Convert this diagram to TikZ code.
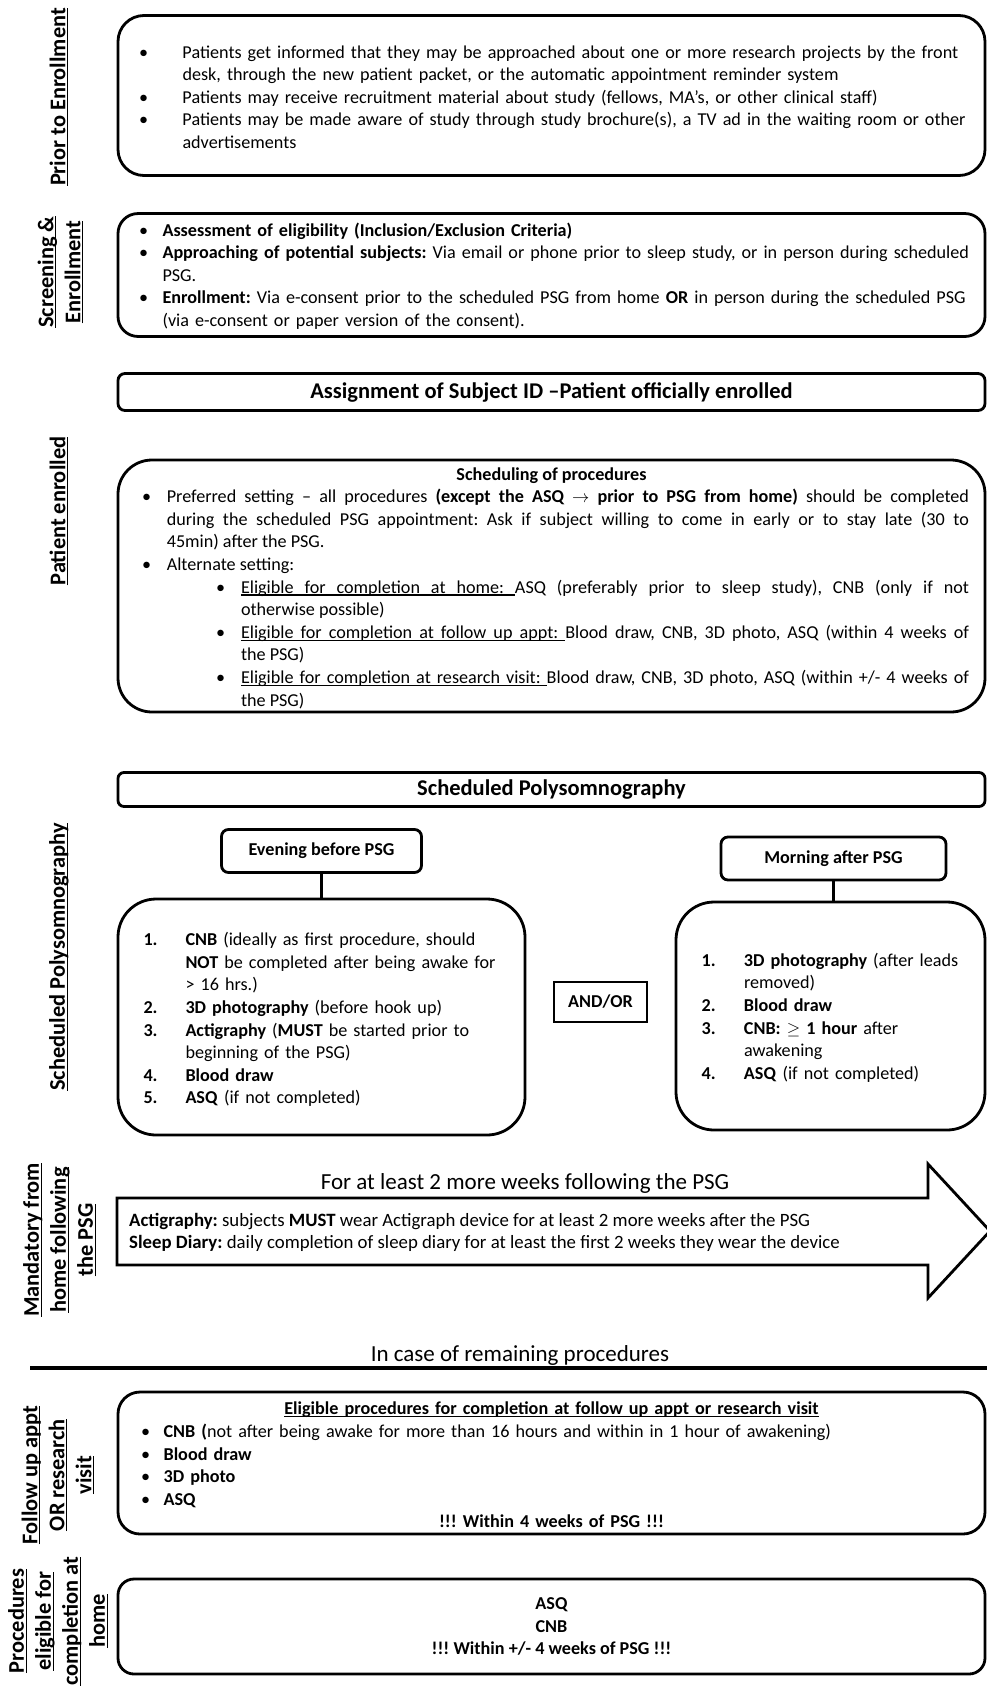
\documentclass[tikz,border=0pt]{standalone}
\usepackage{amsmath, amssymb}
\usepackage{fontspec}
\setmainfont{Carlito}
\newcommand{\bodysize}{\fontsize{18.15}{22.6}\selectfont}
\newcommand{\headsize}{\fontsize{22.5}{27}\selectfont}
% underline with a given depth
\newcommand{\uln}[2][2.6pt]{\setbox0\hbox{#2}\rlap{\rule[-#1]{\wd0}{1.3pt}}\box0}
% underlined stretchable space
\newcommand{\ulsp}{\leaders\hrule height -1.3pt depth 2.6pt\hskip\fontdimen2\font plus\fontdimen3\font minus\fontdimen4\font\relax}
% list item: text indent, label start, label
\newcommand{\litem}[3]{\par\noindent\hangindent=#1\hangafter=1\hspace*{#2}\makebox[\dimexpr#1-#2\relax][l]{#3}\ignorespaces}
\hyphenpenalty=10000
\exhyphenpenalty=10000
\frenchspacing

\begin{document}
\begin{tikzpicture}[x=1pt,y=1pt,yscale=-1,font=\bodysize,
  roundbox/.style={draw, line width=2.8pt, rounded corners=#1, inner sep=0pt},
  sidelabel/.style={rotate=90, align=center, inner sep=0pt, font=\fontsize{22.4}{27}\selectfont\bfseries}]
\useasboundingbox (0,0) rectangle (987,1687);

% Text Node
\node [sidelabel] (lbprior) at (59,97) {\uln[3pt]{Prior to Enrollment}};
% Text Node
\node [sidelabel] (lbscreen) at (60.5,272) {\uln[3pt]{Screening \&}\\\uln[3pt]{Enrollment}};
% Text Node
\node [sidelabel] (lbenrol) at (59,511) {\uln[3pt]{Patient enrolled}};
% Text Node
\node [sidelabel] (lbpsg) at (59,957) {\uln[3pt]{Scheduled Polysomnography}};
% Text Node
\node [sidelabel] (lbhome) at (59.5,1240) {\uln[3pt]{Mandatory from}\\\uln[3pt]{home following}\\\uln[3pt]{the PSG}};
% Text Node
\node [sidelabel] (lbvisit) at (58,1475) {\uln[3pt]{Follow up appt}\\\uln[3pt]{OR research}\\\uln[3pt]{visit}};
% Text Node
\node [sidelabel] (lbathome) at (58,1621) {\uln[3pt]{Procedures}\\\uln[3pt]{eligible for}\\\uln[3pt]{completion at}\\\uln[3pt]{home}};

%Shape: Rounded Rect
\node [roundbox=26pt, minimum width=867, minimum height=160, text width=845, align=left] (prior) at (551.5,95.5) {%
\litem{53.5pt}{10pt}{\textbullet}Patients get informed that they may be approached about one or more research projects by the front\newline desk, through the new patient packet, or the automatic appointment reminder system
\litem{53.5pt}{10pt}{\textbullet}Patients may receive recruitment material about study (fellows, MA’s, or other clinical staff)
\litem{53.5pt}{10pt}{\textbullet}Patients may be made aware of study through study brochure(s), a TV ad in the waiting room or other\newline advertisements\par\kern7pt\relax};

%Shape: Rounded Rect
\node [roundbox=20pt, minimum width=867, minimum height=120, text width=845, align=left] (screen) at (551.5,275) {%
\litem{33.5pt}{10pt}{\textbullet}\textbf{Assessment of eligibility (Inclusion/Exclusion Criteria)}
\litem{33.5pt}{10pt}{\textbullet}\textbf{Approaching of potential subjects:} Via email or phone prior to sleep study, or in person during scheduled\newline PSG.
\litem{33.5pt}{10pt}{\textbullet}\textbf{Enrollment:} Via e-consent prior to the scheduled PSG from home \textbf{OR} in person during the scheduled PSG\newline (via e-consent or paper version of the consent).\par\kern7pt\relax};

%Shape: Rounded Rect
\node [roundbox=7pt, minimum width=867, minimum height=37, font=\headsize\bfseries] (assign) at (551.5,392) {Assignment of Subject ID --Patient officially enrolled};

%Shape: Rounded Rect
\node [roundbox=34pt, minimum width=867, minimum height=252, text width=835, align=justify] (sched) at (551.5,586) {%
{\centering\textbf{Scheduling of procedures}\par}
\litem{32.8pt}{8pt}{\textbullet}Preferred setting -- all procedures \textbf{(except the ASQ $\rightarrow$ prior to PSG from home)} should be completed\linebreak during the scheduled PSG appointment: Ask if subject willing to come in early or to stay late (30 to\linebreak 45min) after the PSG.
\litem{32.8pt}{8pt}{\textbullet}Alternate setting:
\litem{107pt}{82pt}{\textbullet}\uln{Eligible}\ulsp\uln{for}\ulsp\uln{completion}\ulsp\uln{at}\ulsp\uln{home:}\ulsp ASQ (preferably prior to sleep study), CNB (only if not\linebreak otherwise possible)
\litem{107pt}{82pt}{\textbullet}\uln{Eligible}\ulsp\uln{for}\ulsp\uln{completion}\ulsp\uln{at}\ulsp\uln{follow}\ulsp\uln{up}\ulsp\uln{appt:}\ulsp Blood draw, CNB, 3D photo, ASQ (within 4 weeks of\linebreak the PSG)
\litem{107pt}{82pt}{\textbullet}\uln{Eligible}\ulsp\uln{for}\ulsp\uln{completion}\ulsp\uln{at}\ulsp\uln{research}\ulsp\uln{visit:}\ulsp Blood draw, CNB, 3D photo, ASQ (within +/- 4 weeks of\linebreak the PSG)\par\kern-4pt\relax};

%Shape: Rounded Rect
\node [roundbox=6pt, minimum width=867, minimum height=34, font=\headsize\bfseries] (psg) at (551.5,789.5) {Scheduled Polysomnography};

%Shape: Rounded Rect
\node [roundbox=7pt, minimum width=200, minimum height=43, font=\bodysize\bfseries] (evening) at (321.5,851) {Evening before PSG};
%Shape: Rounded Rect
\node [roundbox=7pt, minimum width=225, minimum height=43, font=\bodysize\bfseries] (morning) at (833.5,858.5) {Morning after PSG};

%Shape: Rounded Rect
\node [roundbox=38pt, minimum width=407, minimum height=236, text width=370, align=left] (evelist) at (321.5,1017) {%
\litem{49pt}{7pt}{\textbf{1.}}\textbf{CNB} (ideally as first procedure, should\newline \textbf{NOT} be completed after being awake for\newline > 16 hrs.)
\litem{49pt}{7pt}{\textbf{2.}}\textbf{3D photography} (before hook up)
\litem{49pt}{7pt}{\textbf{3.}}\textbf{Actigraphy} (\textbf{MUST} be started prior to\newline beginning of the PSG)
\litem{49pt}{7pt}{\textbf{4.}}\textbf{Blood draw}
\litem{49pt}{7pt}{\textbf{5.}}\textbf{ASQ} (if not completed)\par\kern4pt\relax};

%Shape: Rectangle
\node [draw, line width=2.8pt, minimum width=93, minimum height=40, inner sep=0pt, font=\bodysize\bfseries] (andor) at (600.5,1002) {AND/OR};

%Shape: Rounded Rect
\node [roundbox=38pt, minimum width=309, minimum height=228, text width=270, align=left] (mornlist) at (830.5,1016) {%
\litem{48.5pt}{6.2pt}{\textbf{1.}}\textbf{3D photography} (after leads\newline removed)
\litem{48.5pt}{6.2pt}{\textbf{2.}}\textbf{Blood draw}
\litem{48.5pt}{6.2pt}{\textbf{3.}}\textbf{CNB: $\geq$ 1 hour} after\newline awakening
\litem{48.5pt}{6.2pt}{\textbf{4.}}\textbf{ASQ} (if not completed)\par\kern6pt\relax};

%Straight Lines
\draw [line width=2.8pt] (evening.south) -- (evening.south |- evelist.north);
%Straight Lines
\draw [line width=2.8pt] (morning.south) -- (morning.south |- mornlist.north);

%Shape: Right Arrow
\draw [line width=2.8pt, line join=miter] (117,1198) -- (928,1198) -- (928,1164) -- (990,1231) -- (928,1298) -- (928,1265) -- (117,1265) -- cycle;
% Text Node
\node [font=\fontsize{23}{27}\selectfont] (weeks) at (525,1183) {For at least 2 more weeks following the PSG};
% Text Node
\node [anchor=west, align=left, inner sep=0pt, font=\fontsize{18.8}{22}\selectfont] (wear) at (129,1232.5) {\textbf{Actigraphy:} subjects \textbf{MUST} wear Actigraph device for at least 2 more weeks after the PSG\\\textbf{Sleep Diary:} daily completion of sleep diary for at least the first 2 weeks they wear the device};

% Text Node
\node [font=\fontsize{23}{27}\selectfont] (remain) at (520,1355) {In case of remaining procedures};
%Straight Lines
\draw [line width=4pt] (30,1368) -- (987,1368);

%Shape: Rounded Rect
\node [roundbox=22pt, minimum width=867, minimum height=142, text width=835, align=left] (visit) at (551.5,1463) {%
{\centering\uln{\textbf{Eligible procedures for completion at follow up appt or research visit}}\par}
\litem{29.6pt}{7pt}{\textbullet}\textbf{CNB (}not after being awake for more than 16 hours and within in 1 hour of awakening)
\litem{29.6pt}{7pt}{\textbullet}\textbf{Blood draw}
\litem{29.6pt}{7pt}{\textbullet}\textbf{3D photo}
\litem{29.6pt}{7pt}{\textbullet}\textbf{ASQ}
\par{\centering\textbf{!!! Within 4 weeks of PSG !!!}\par}\kern-4pt\relax};

%Shape: Rounded Rect
\node [roundbox=16pt, minimum width=867, minimum height=95, align=center, font=\bodysize\bfseries] (athome) at (551.5,1626.5) {ASQ\\CNB\\!!! Within +/- 4 weeks of PSG !!!};

\end{tikzpicture}
\end{document}
